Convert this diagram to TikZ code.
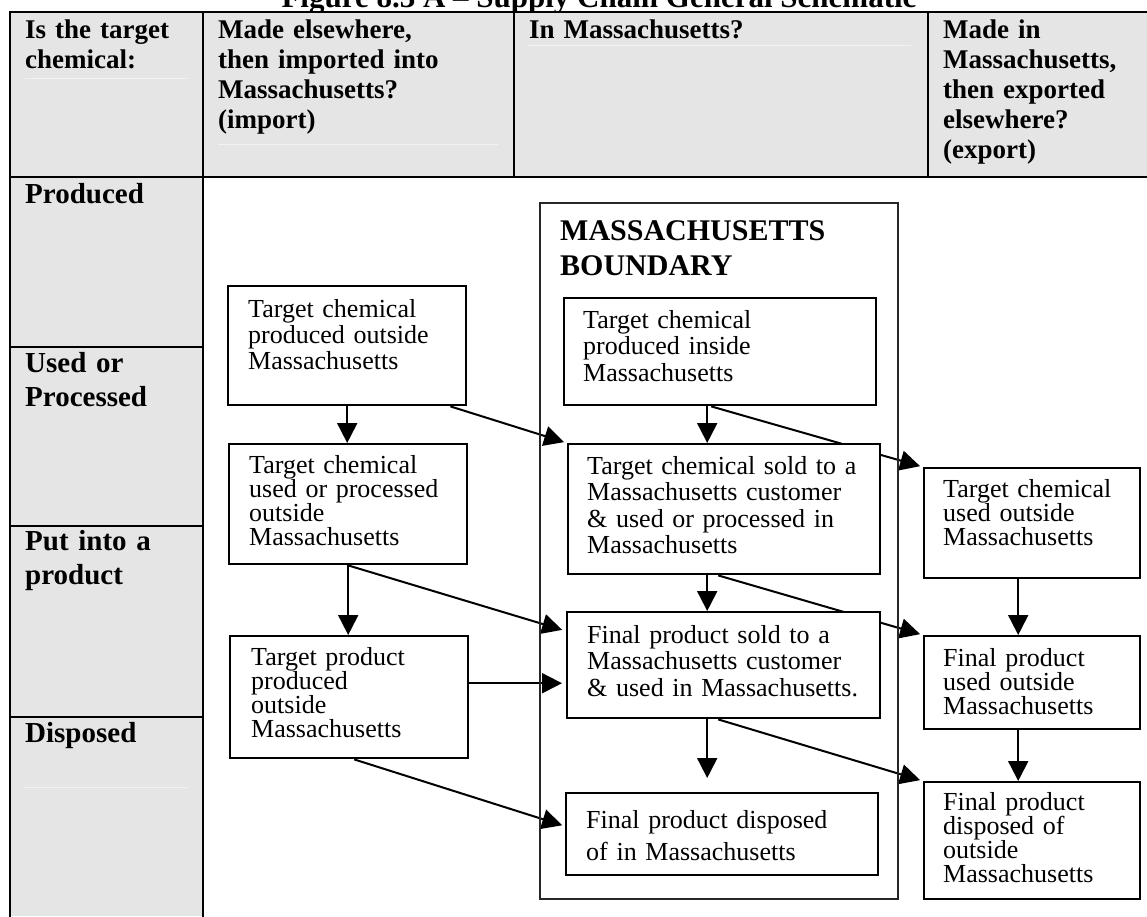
\documentclass[tikz,border=0pt]{standalone}
\usepackage{fontspec}
\setmainfont{Liberation Serif}
\usetikzlibrary{arrows.meta,backgrounds,calc}

\definecolor{cellgray}{gray}{0.9}
\definecolor{ruleghost}{gray}{0.95}

% first-line strut: fixes the distance from a text node's top to its first baseline
\newcommand{\fl}{\rule{0pt}{20pt}}

\tikzset{
  tbl/.style={line width=2.6pt, line cap=rect},
  hdr/.style={font=\bfseries\fontsize{27}{30}\selectfont, anchor=north west,
              inner sep=0pt, align=left, text width=400pt},
  rowlbl/.style={font=\bfseries\fontsize{29}{34}\selectfont, anchor=north west,
              inner sep=0pt, align=left, text width=180pt},
  stepbox/.style={draw, line width=2.4pt, fill=white, inner sep=0pt,
              anchor=north west},
  boxtxt/.style={anchor=north west, inner sep=0pt, align=left, text width=300pt},
  arr/.style={line width=2pt, -{Triangle[length=20pt,width=20pt]}},
  ghost/.style={ruleghost, line width=1pt}
}

\begin{document}
\begin{tikzpicture}[x=1pt,y=-1pt]
\useasboundingbox (0,0) rectangle (1147,916);
\clip (0,0) rectangle (1147,916);

% caption above the table
\node[font=\bfseries\fontsize{31}{31}\selectfont, anchor=base] (title) at (599,7)
  {Figure 8.3 A – Supply Chain General Schematic};

% shaded header row and first column
\fill[cellgray] (10,12) rectangle (1147,177);
\fill[cellgray] (10,177) rectangle (203,916);

% paragraph rules left by the word processor
\draw[ghost] (25,78) -- (187,78);
\draw[ghost] (218,144) -- (498,144);
\draw[ghost] (527,45) -- (911,45);
\draw[ghost] (24,787) -- (187,787);

% table rules
\draw[tbl] (10,12) -- (1147,12);
\draw[tbl] (10,177) -- (1147,177);
\draw[tbl] (10,12) -- (10,916);
\draw[tbl] (203,12) -- (203,916);
\draw[tbl] (514,12) -- (514,177);
\draw[tbl] (928,12) -- (928,177);
\draw[tbl] (10,347) -- (203,347);
\draw[tbl] (10,526) -- (203,526);
\draw[tbl] (10,717) -- (203,717);

% header texts
\node[hdr] (h1) at (25,18) {\fl Is the target\\chemical:};
\node[hdr] (h2) at (218,18) {\fl Made elsewhere,\\then imported into\\Massachusetts?\\(import)};
\node[hdr] (h3) at (529,18) {\fl In Massachusetts?};
\node[hdr, text width=200pt] (h4) at (943,18) {\fl Made in\\Massachusetts,\\then exported\\elsewhere?\\(export)};

% stage labels
\node[rowlbl] (r1) at (25,183) {\fl Produced};
\node[rowlbl] (r2) at (25,352) {\fl Used or\\Processed};
\node[rowlbl] (r3) at (25,530) {\fl Put into a\\product};
\node[rowlbl] (r4) at (25,722) {\fl Disposed};

% state boundary
\node[draw=black!85, line width=2pt, minimum width=358pt, minimum height=696pt,
      inner sep=0pt, anchor=north west] (ma) at (539,202) {};
\node[anchor=north west, inner sep=0pt, align=left, text width=330pt,
      font=\bfseries\fontsize{30}{35}\selectfont] (matitle) at (560,220)
  {\fl MASSACHUSETTS\\BOUNDARY};

% flow boxes
\node[stepbox, minimum width=238pt, minimum height=119pt] (b1) at (227,285) {};
\node[stepbox, minimum width=238pt, minimum height=120pt] (b2) at (228,443) {};
\node[stepbox, minimum width=238pt, minimum height=122pt] (b3) at (229,635) {};
\node[stepbox, minimum width=312pt, minimum height=107pt] (b4) at (563,297) {};
\node[stepbox, minimum width=312pt, minimum height=130pt] (b5) at (567,443) {};
\node[stepbox, minimum width=313pt, minimum height=106pt] (b9) at (566,611) {};
\node[stepbox, minimum width=312pt, minimum height=82pt] (b10) at (565,792) {};
\node[stepbox, minimum width=216pt, minimum height=110pt] (b6) at (923,467) {};
\node[stepbox, minimum width=216pt, minimum height=93pt] (b7) at (923,635) {};
\node[stepbox, minimum width=216pt, minimum height=117pt] (b8) at (923,781) {};

% box texts
\node[boxtxt, font=\fontsize{26}{26}\selectfont] (t1) at ([shift={(21,12)}]b1.north west)
  {\fl Target chemical\\produced outside\\Massachusetts};
\node[boxtxt, font=\fontsize{26}{24}\selectfont] (t2) at ([shift={(21,10)}]b2.north west)
  {\fl Target chemical\\used or processed\\outside\\Massachusetts};
\node[boxtxt, font=\fontsize{26}{24}\selectfont] (t3) at ([shift={(22,10)}]b3.north west)
  {\fl Target product\\produced\\outside\\Massachusetts};
\node[boxtxt, font=\fontsize{26}{26.5}\selectfont] (t4) at ([shift={(20,11)}]b4.north west)
  {\fl Target chemical\\produced inside\\Massachusetts};
\node[boxtxt, font=\fontsize{26}{26.5}\selectfont] (t5) at ([shift={(20,11)}]b5.north west)
  {\fl Target chemical sold to a\\Massachusetts customer\\\& used or processed in\\Massachusetts};
\node[boxtxt, font=\fontsize{26}{26.5}\selectfont] (t9) at ([shift={(21,12)}]b9.north west)
  {\fl Final product sold to a\\Massachusetts customer\\\& used in Massachusetts.};
\node[boxtxt, font=\fontsize{26}{32}\selectfont] (t10) at ([shift={(21,16)}]b10.north west)
  {\fl Final product disposed\\of in Massachusetts};
\node[boxtxt, font=\fontsize{26}{24}\selectfont] (t6) at ([shift={(20,10)}]b6.north west)
  {\fl Target chemical\\used outside\\Massachusetts};
\node[boxtxt, font=\fontsize{26}{24}\selectfont] (t7) at ([shift={(20,11)}]b7.north west)
  {\fl Final product\\used outside\\Massachusetts};
\node[boxtxt, font=\fontsize{26}{24}\selectfont] (t8) at ([shift={(20,9)}]b8.north west)
  {\fl Final product\\disposed of\\outside\\Massachusetts};

% start points of the straight-down flows
\coordinate (c45) at ([xshift=-13pt]b4.south);
\coordinate (c59) at ([xshift=-17pt]b5.south);
\coordinate (c910) at ([xshift=-16.5pt]b9.south);
\coordinate (e910) at ($(c910 |- b10.north)+(0,-14)$);
\coordinate (c67) at ([xshift=-14pt]b6.south);
\coordinate (c78) at ([xshift=-14pt]b7.south);
\coordinate (c39) at ([yshift=14pt]b3.east);

% flows, kept beneath the boxes
\begin{scope}[on background layer]
  % outside, before import
  \draw[arr] (b1.south) -- (b1.south |- b2.north);
  \draw[arr] (b2.south) -- (b2.south |- b3.north);
  % imports
  \draw[arr, shorten >=3pt] ([xshift=-17pt]b1.south east) -- (b5.north west);
  \draw[arr, shorten >=4pt] (b2.south) -- ([yshift=-20pt]b9.north west);
  \draw[arr, shorten >=4pt] (c39) -- (c39 -| b9.west);
  \draw[arr, shorten >=3pt] ([xshift=5pt]b3.south) -- ([yshift=8pt]b10.west);
  % inside the state
  \draw[arr] (c45) -- (c45 |- b5.north);
  \draw[arr] (c59) -- (c59 |- b9.north);
  \draw[arr] (c910) -- (e910);
  % exports
  \draw[arr, shorten >=3pt] ([xshift=-9pt]b4.south) -- (b6.north west);
  \draw[arr, shorten >=3pt] ([xshift=-6pt]b5.south) -- (b7.north west);
  \draw[arr, shorten >=3pt] ([xshift=-5.5pt]b9.south) -- (b8.north west);
  % outside, after export
  \draw[arr] (c67) -- (c67 |- b7.north);
  \draw[arr] (c78) -- (c78 |- b8.north);
\end{scope}
\end{tikzpicture}
\end{document}
